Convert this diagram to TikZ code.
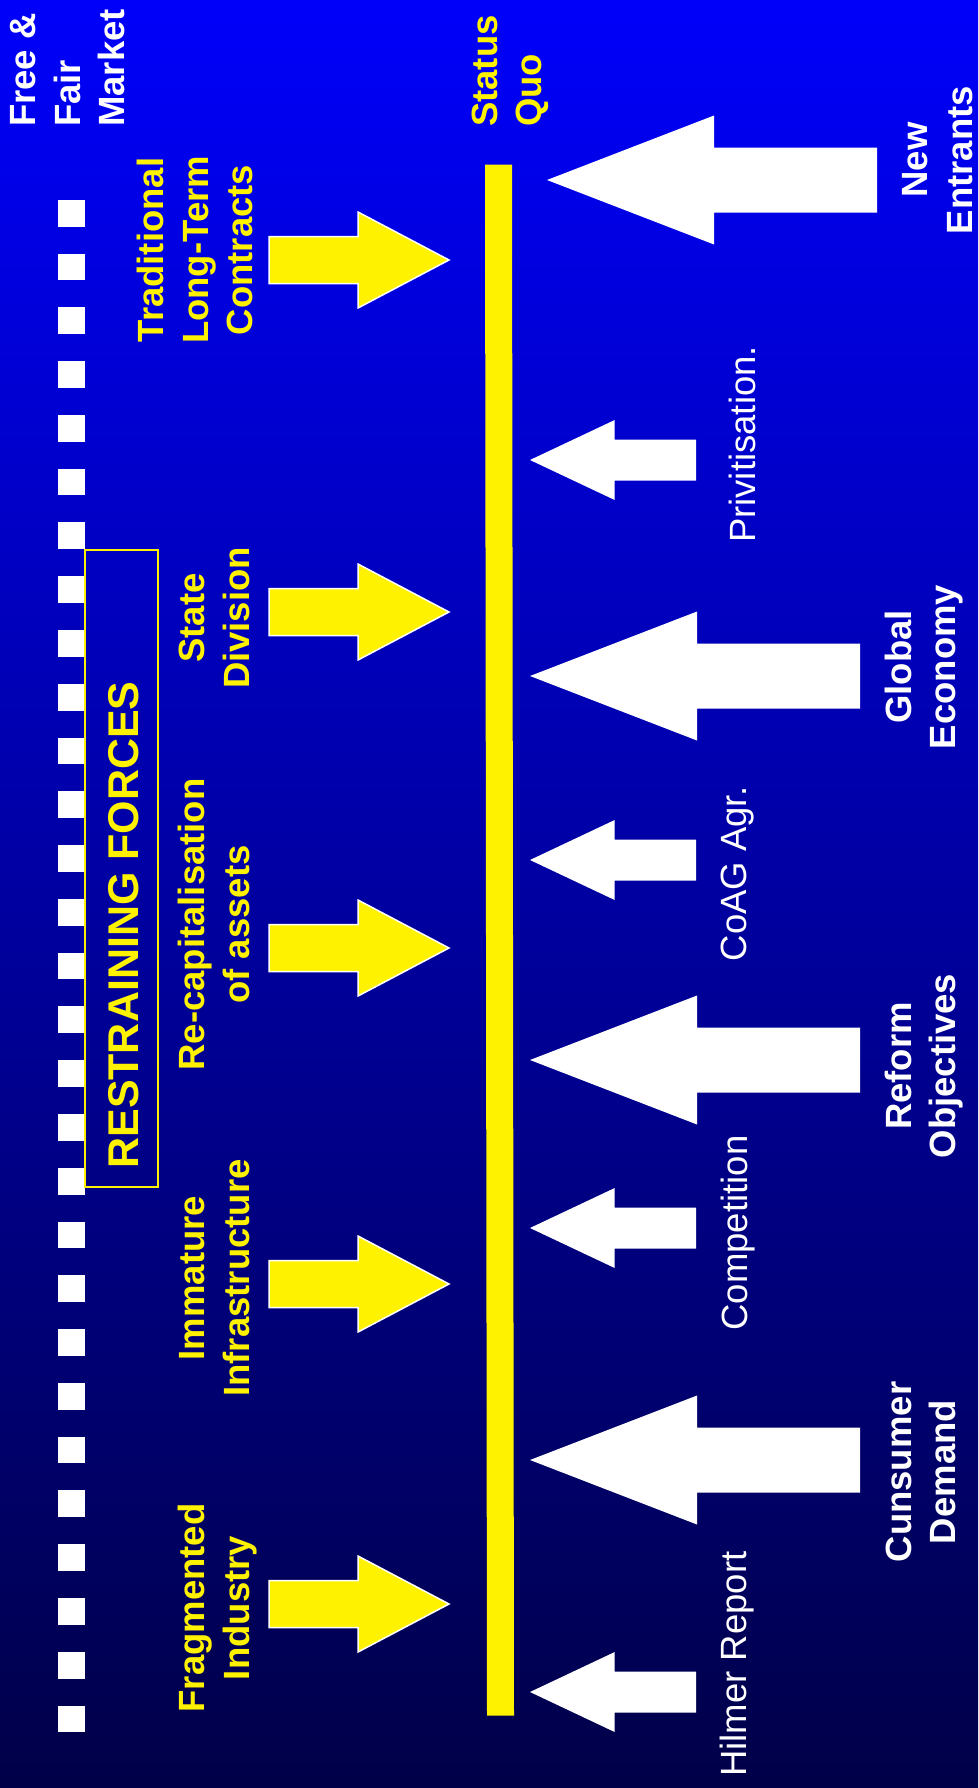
\documentclass[tikz,border=0pt]{standalone}
\usepackage{fontspec}
\setmainfont{Liberation Sans}
\definecolor{bgtop}{RGB}{0,0,250}
\definecolor{bgbot}{RGB}{0,0,72}
\begin{document}
\begin{tikzpicture}[x=1pt,y=-1pt,
  lbl/.style={rotate=90, inner sep=0pt, anchor=base},
  ylbl/.style={lbl, text=yellow, font=\bfseries\fontsize{36.5}{44.5}\selectfont},
  wlbl/.style={lbl, text=white, font=\bfseries\fontsize{36.5}{44.5}\selectfont},
  wtxt/.style={lbl, text=white, font=\fontsize{36.5}{44.5}\selectfont},
  yarr/.pic={\filldraw[fill=yellow, draw=white, line width=1.5pt, line join=miter]
     (0,-23.5) -- (89,-23.5) -- (89,-48) -- (180,0) -- (89,48) -- (89,23.5) -- (0,23.5) -- cycle;},
  bigarr/.pic={\fill[white] (0,0) -- (167,-64.5) -- (167,-32.5) -- (330,-32.5) -- (330,32.5) -- (167,32.5) -- (167,64.5) -- cycle;},
  smallarr/.pic={\fill[white] (0,0) -- (84.7,-40) -- (84.7,-20.5) -- (166,-20.5) -- (166,20.5) -- (84.7,20.5) -- (84.7,40) -- cycle;}
]
\useasboundingbox (0,0) rectangle (978,1788);
\shade[top color=bgtop, bottom color=bgbot] (0,0) rectangle (978,1788);

% dashed "free & fair market" line
\foreach \i in {0,...,28}
  \fill[white] (58.3,{199.8+53.775*\i}) rectangle ++(26.7,26.8);

% restraining forces box
\draw[yellow, line width=1.3pt] (85,550) rectangle (158,1187);
\node[lbl, text=yellow, font=\bfseries\fontsize{43}{50}\selectfont] (rf) at (138,925) {RESTRAINING FORCES};

% status quo bar
\fill[yellow] (485,164.6) -- (512,164.6) -- (514,1715.6) -- (487,1715.6) -- cycle;

% top labels
\node[wlbl, anchor=base west] (free) at (35,127) {Free \&};
\node[wlbl, anchor=base west] (fair) at (80,127) {Fair};
\node[wlbl, anchor=base west] (market) at (124,127) {Market};
\node[ylbl, anchor=base west] (status) at (497,127) {Status};
\node[ylbl, anchor=base west] (quo) at (541,127) {Quo};

% restraining forces (yellow arrows)
\pic at (269,260) {yarr};
\pic at (269,612) {yarr};
\pic at (269,948) {yarr};
\pic at (269,1284) {yarr};
\pic at (269,1604) {yarr};

\node[ylbl] (trad1) at (163,250) {Traditional};
\node[ylbl] (trad2) at (208,250) {Long-Term};
\node[ylbl] (trad3) at (252,250) {Contracts};
\node[ylbl] (state1) at (204,618) {State};
\node[ylbl] (state2) at (249,618) {Division};
\node[ylbl] (recap1) at (204,924.5) {Re-capitalisation};
\node[ylbl] (recap2) at (249,924.5) {of assets};
\node[ylbl] (imm1) at (204,1278) {Immature};
\node[ylbl] (imm2) at (249,1278) {Infrastructure};
\node[ylbl] (frag1) at (204,1608) {Fragmented};
\node[ylbl] (frag2) at (249,1608) {Industry};

% driving forces (white arrows)
\pic at (547,180) {bigarr};
\pic at (530,676) {bigarr};
\pic at (530,1060) {bigarr};
\pic at (530,1460) {bigarr};
\pic at (530,460) {smallarr};
\pic at (530,860) {smallarr};
\pic at (530,1228) {smallarr};
\pic at (530,1692) {smallarr};

\node[wlbl] (new1) at (927,160) {New};
\node[wlbl] (new2) at (972,160) {Entrants};
\node[wlbl] (glob1) at (911,667) {Global};
\node[wlbl] (glob2) at (955,667) {Economy};
\node[wlbl] (ref1) at (911,1066) {Reform};
\node[wlbl] (ref2) at (955,1066) {Objectives};
\node[wlbl] (cons1) at (911,1472) {Cunsumer};
\node[wlbl] (cons2) at (955,1472) {Demand};

\node[wtxt] (priv) at (755,444.5) {Privitisation.};
\node[wtxt] (coag) at (746,874) {CoAG Agr.};
\node[wtxt] (comp) at (747,1233) {Competition};
\node[wtxt] (hilmer) at (746,1664) {Hilmer Report};
\end{tikzpicture}
\end{document}
